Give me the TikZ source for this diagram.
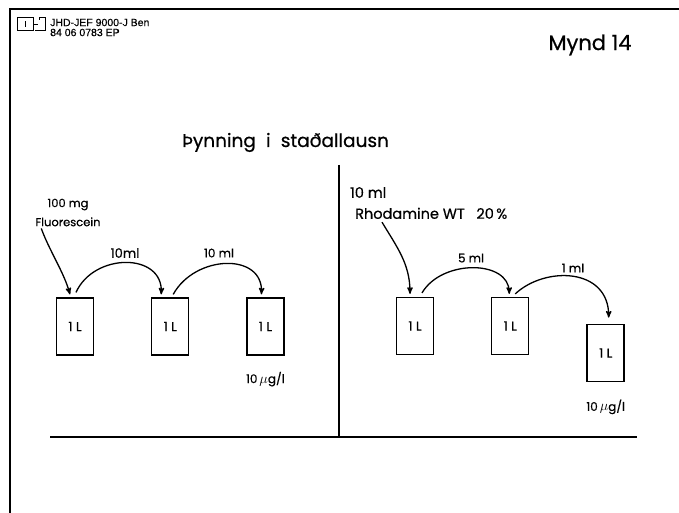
\documentclass[tikz,border=0pt]{standalone}
\usepackage{fontspec}
\setmainfont{Poppins}[FakeBold=0.6]
\newfontfamily\headfont{Liberation Sans}[FakeBold=0.4]
\usetikzlibrary{arrows,positioning,calc}

\tikzset{
  bottle/.style={draw,line width=1.2pt,minimum width=37pt,minimum height=57pt,inner sep=0pt,font=\fontsize{13}{15}\selectfont},
  flow/.style={->,>=stealth',line width=1.3pt},
  lbl/.style={inner sep=0pt,font=\fontsize{12}{14}\selectfont},
}

\begin{document}
\begin{tikzpicture}[x=1pt,y=-1pt]
  \useasboundingbox (0,0) rectangle (679,513);
  % page frame and header
  \draw[line width=2.6pt] (10,513) -- (10,9) -- (679,9);
  \draw[line width=0.8pt] (17,17) rectangle (33,30.5);
  \draw[line width=0.8pt] (25,21.5) -- (25,27);
  \draw[line width=0.8pt] (33,24.5) -- (38,24.5);
  \draw[line width=0.8pt] (39,20) -- (39,17) -- (45,17) -- (45,30.5) -- (35,30.5);
  \node[anchor=west,align=left,inner sep=0pt,font=\headfont\fontsize{10.5}{10}\selectfont] (hdr) at (50,27.5) {JHD-JEF 9000-J Ben\\84 06 0783 EP};
  \node[inner sep=0pt,font=\fontsize{21}{24}\selectfont] (mynd) at (590,45) {Mynd 14};
  \node[anchor=base west,inner sep=0pt,font=\fontsize{18.5}{22}\selectfont] (title) at (182,147) {Þynning\hspace{0.55em}i\hspace{0.55em}staðallausn};

  % fluorescein series
  \node[lbl,align=center,font=\fontsize{11.5}{19}\selectfont] (fluo) at (68,212.5) {100 mg\\Fluorescein};
  \node[bottle] (b1) at (75,326.5) {1 L};
  \node[bottle,right=57pt of b1] (b2) {1 L};
  \node[bottle,right=57pt of b2] (b3) {1 L};
  \node[lbl,below=16pt of b3] (c1) {10\,{\Large$\mu$}g/l};
  \node[lbl,font=\fontsize{13}{15}\selectfont] (l1) at (125,253) {10ml};
  \node[lbl] (l2) at (219,253) {10 ml};
  \draw[flow] ([xshift=6pt,yshift=-2pt]fluo.south west) .. controls +(8,22) and +(-6,-22) .. ([xshift=-5pt,yshift=3pt]b1.north);
  \draw[flow] ([xshift=1pt,yshift=5pt]b1.north) .. controls +(18,-40) and +(2,-42) .. ([xshift=-9pt,yshift=3pt]b2.north);
  \draw[flow] ([xshift=3pt,yshift=3pt]b2.north) .. controls +(22,-40) and +(2,-42) .. ([xshift=-4pt,yshift=3pt]b3.north);

  \draw[line width=1.2pt] (339,165) -- (339,437);
  \draw[line width=2pt] (50,437) -- (637,437);

  % rhodamine series
  \node[lbl,anchor=west,align=left,font=\fontsize{14.5}{21}\selectfont] (rhod) at (350,203) {10 ml\\\hspace*{5pt}Rhodamine~WT~~~20\,\%};
  \node[bottle] (b4) at (415,326) {1 L};
  \node[bottle,right=57pt of b4] (b5) {1 L};
  \node[bottle,line width=1.8pt,right=57pt of b5,yshift=-27pt] (b6) {1 L};
  \node[lbl,below=17pt of b6] (c2) {10\,{\Large$\mu$}g/l};
  \node[lbl] (l3) at (471,258) {5 ml};
  \node[lbl] (l4) at (573,268) {1 ml};
  \draw[flow] ([xshift=32pt,yshift=-3pt]rhod.south west) .. controls +(15,25) and +(0,-30) .. ([xshift=-5pt,yshift=3pt]b4.north);
  \draw[flow] ([xshift=7pt,yshift=4pt]b4.north) .. controls +(20,-34) and +(0,-34) .. ([xshift=-1pt,yshift=3pt]b5.north);
  \draw[flow] ([xshift=5pt,yshift=3pt]b5.north) .. controls +(30,-28) and +(0,-50) .. ([xshift=3pt,yshift=6pt]b6.north);
\end{tikzpicture}
\end{document}
